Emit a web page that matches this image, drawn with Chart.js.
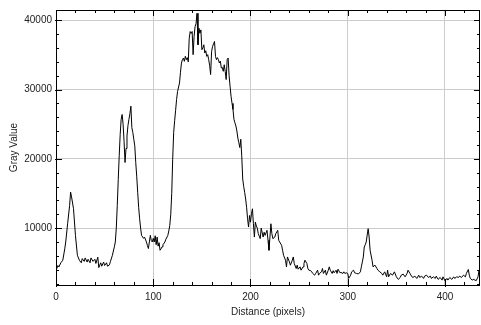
<!DOCTYPE html>
<html>
<head>
<meta charset="utf-8">
<script src="https://cdn.jsdelivr.net/npm/chart.js@4.4.1/dist/chart.umd.min.js"></script>
<style>
  html, body { margin: 0; padding: 0; background: #fff; }
  .chart-container { position: relative; width: 481px; height: 325px; }
</style>
</head>
<body>
<div class="chart-container"><canvas id="chartCanvas"></canvas></div>
<script>
// Profilo: distanza (pixel) e valore di grigio
const distance = [
  0, 2, 3, 5, 7, 9, 10, 12, 14, 15,
  16, 18, 20, 22, 24, 26, 27, 29, 30, 32,
  33, 35, 36, 38, 40, 41, 43, 44, 46, 47,
  49, 50, 52, 53, 55, 56, 58, 60, 61, 62,
  63, 64, 65, 66, 67, 68, 69, 70, 71, 72,
  73, 74, 75, 76, 77, 78, 79, 80, 81, 82,
  83, 84, 85, 86, 87, 88, 90, 91, 93, 94,
  95, 96, 97, 98, 99, 100, 101, 102, 103, 104,
  105, 106, 107, 108, 109, 110, 112, 113, 115, 116,
  117, 118, 119, 120, 121, 122, 123, 124, 125, 127,
  128, 129, 130, 131, 132, 133, 134, 135, 136, 137,
  138, 139, 140, 141, 142, 143, 144, 145, 146, 147,
  148, 149, 150, 151, 152, 153, 154, 155, 156, 157,
  158, 159, 160, 161, 162, 163, 164, 165, 166, 167,
  168, 169, 170, 171, 172, 173, 174, 175, 176, 177,
  178, 179, 180, 181, 182, 183, 184, 185, 186, 187,
  188, 189, 190, 191, 192, 193, 194, 195, 196, 197,
  198, 199, 200, 201, 202, 203, 204, 205, 206, 207,
  208, 210, 211, 213, 214, 215, 217, 218, 219, 221,
  222, 223, 225, 226, 228, 229, 230, 232, 233, 234,
  236, 237, 238, 240, 241, 243, 244, 245, 247, 248,
  249, 251, 252, 254, 255, 256, 258, 259, 260, 262,
  263, 264, 266, 267, 269, 270, 271, 273, 274, 275,
  277, 278, 280, 281, 282, 284, 285, 286, 288, 289,
  290, 292, 293, 295, 296, 297, 299, 300, 301, 303,
  304, 306, 307, 309, 311, 313, 314, 315, 316, 317,
  318, 319, 320, 321, 322, 323, 325, 326, 328, 330,
  331, 333, 335, 336, 338, 340, 341, 342, 344, 346,
  348, 350, 352, 354, 355, 357, 359, 361, 362, 364,
  366, 367, 369, 371, 373, 374, 376, 378, 379, 381,
  383, 385, 386, 388, 390, 391, 393, 395, 397, 398,
  400, 402, 403, 405, 407, 409, 410, 412, 414, 415,
  417, 419, 421, 422, 424, 425, 426, 428, 429, 431,
  432, 434, 435, 436
];
const grayValue = [
  3900, 4600, 4400, 5000, 5370, 7000, 8000, 10700, 13260, 15200,
  14500, 12800, 8950, 6080, 5370, 5000, 5600, 5200, 5700, 5100,
  5500, 5000, 5700, 5200, 5500, 4900, 5800, 4300, 5000, 4500,
  5100, 4600, 5000, 4500, 4700, 5200, 6080, 7300, 8000, 10000,
  13260, 17000, 20430, 23500, 25700, 26400, 25000, 22500, 19470, 21500,
  23300, 24800, 25700, 26500, 27600, 24500, 23800, 22830, 21870, 19470,
  17500, 15170, 13000, 11350, 10000, 8950, 8520, 8700, 8000, 7500,
  7050, 8000, 8950, 8200, 8000, 8520, 8000, 8900, 7600, 8700,
  7400, 7900, 6800, 7000, 7300, 7600, 8000, 8400, 8950, 9600,
  10390, 12000, 15000, 19960, 23780, 25500, 27000, 28570, 29700, 30950,
  32500, 33820, 34300, 34540, 34070, 34800, 34310, 34600, 34000, 37410,
  38370, 38100, 38370, 35030, 37650, 39080, 39500, 41000, 36460, 38850,
  38130, 38610, 35750, 36000, 36460, 35270, 35600, 34790, 35030, 34310,
  33500, 32160, 35500, 36220, 36600, 36940, 34790, 34310, 34600, 34310,
  33830, 34100, 33110, 33200, 32630, 33580, 32600, 31440, 34310, 34550,
  32000, 30480, 29040, 28000, 27130, 25700, 25200, 24740, 24020, 23000,
  22340, 21630, 22830, 20430, 17090, 16000, 15170, 14200, 13020, 11350,
  10150, 11820, 10860, 12070, 12790, 10630, 8710, 10870, 10300, 10000,
  9200, 8480, 10000, 8710, 9400, 8950, 9680, 8240, 6800, 10630,
  9200, 8480, 8710, 9200, 9680, 8240, 8000, 7520, 6800, 6080,
  5370, 4410, 5840, 5130, 4650, 5370, 5840, 4890, 4170, 4650,
  4070, 4410, 3930, 4410, 4890, 5370, 4890, 4170, 3930, 3850,
  3690, 3460, 3210, 3460, 3930, 3210, 3460, 3690, 4170, 3460,
  3930, 3210, 3930, 4410, 3930, 3460, 3850, 3550, 3930, 3460,
  4070, 3550, 3600, 3460, 3690, 3460, 3550, 3460, 2740, 3210,
  3690, 3930, 3550, 3460, 3380, 3690, 4410, 5120, 5840, 7280,
  7600, 8000, 9000, 9920, 8710, 6800, 5370, 4410, 4650, 4170,
  3930, 3690, 3460, 3210, 3690, 2970, 3930, 2970, 3460, 3210,
  3690, 2970, 2600, 2880, 3210, 3360, 2970, 3460, 3930, 3460,
  2970, 2880, 3070, 2740, 3210, 2880, 3070, 2740, 3070, 3210,
  2880, 3070, 2740, 2970, 2740, 3070, 2600, 2880, 2500, 2970,
  2400, 2740, 2500, 2880, 2600, 2970, 2740, 2970, 2880, 3070,
  2880, 3210, 2970, 3460, 4030, 3210, 2740, 2500, 2600, 2500,
  2400, 2970, 3930, 3200
];

// Tacche con etichetta e limiti degli assi
const xTicks = [0, 100, 200, 300, 400];
const yTicks = [10000, 20000, 30000, 40000];
const xMin = 0, xMax = 436;
const yMin = 1790, yMax = 41480;

// Cornice e tacche interne stile ImageJ
const framePlugin = {
  id: 'frame',
  afterDraw(chart) {
    const { ctx, chartArea: a, scales } = chart;
    ctx.save();
    ctx.strokeStyle = '#000';
    ctx.lineWidth = 1;
    ctx.strokeRect(a.left + 0.5, a.top + 0.5, a.right - a.left - 1, a.bottom - a.top);
    ctx.beginPath();
    for (let v = 0; v <= xMax; v += 20) {
      const px = Math.round(scales.x.getPixelForValue(v)) + 0.5;
      const major = v % 100 === 0;
      const len = major ? 6 : 3;
      ctx.moveTo(px, a.bottom + (major ? 2 : 0));
      ctx.lineTo(px, a.bottom - len);
      ctx.moveTo(px, a.top);
      ctx.lineTo(px, a.top + len);
    }
    for (let v = 2000; v <= yMax; v += 2000) {
      const py = Math.round(scales.y.getPixelForValue(v)) + 0.5;
      const major = v % 10000 === 0;
      const len = major ? 6 : 3;
      ctx.moveTo(a.left - (major ? 1 : 0), py);
      ctx.lineTo(a.left + len, py);
      ctx.moveTo(a.right, py);
      ctx.lineTo(a.right - len, py);
    }
    ctx.stroke();
    ctx.restore();
  }
};

const font = { family: 'Liberation Sans, Arial, sans-serif', size: 10 };

new Chart(document.getElementById('chartCanvas'), {
  type: 'line',
  data: {
    datasets: [{
      data: distance.map((d, i) => ({ x: d, y: grayValue[i] })),
      borderColor: '#000',
      borderWidth: 1,
      pointRadius: 0,
      tension: 0,
      fill: false
    }]
  },
  options: {
    responsive: true,
    maintainAspectRatio: false,
    animation: false,
    layout: { padding: { top: 8, right: 1, left: 0, bottom: 0 } },
    plugins: { legend: { display: false }, tooltip: { enabled: false } },
    scales: {
      x: {
        type: 'linear',
        min: xMin,
        max: xMax,
        afterBuildTicks: s => { s.ticks = xTicks.map(v => ({ value: v })); },
        afterFit: s => { s.height = 40; },
        grid: { color: '#cccccc', drawTicks: false },
        border: { display: false },
        ticks: { padding: 6, color: '#222', font, maxRotation: 0, autoSkip: false, callback: v => String(v) },
        title: { display: true, text: 'Distance (pixels)', color: '#222', font, padding: { top: 0, bottom: 7 } }
      },
      y: {
        type: 'linear',
        min: yMin,
        max: yMax,
        afterBuildTicks: s => { s.ticks = yTicks.map(v => ({ value: v })); },
        afterFit: s => { s.width = 56; },
        grid: { color: '#cccccc', drawTicks: false },
        border: { display: false },
        ticks: { padding: 4, color: '#222', font, autoSkip: false, callback: v => String(v) },
        title: { display: true, text: 'Gray Value', color: '#222', font, padding: { top: 8, bottom: 0 } }
      }
    }
  },
  plugins: [framePlugin]
});
</script>
</body>
</html>
